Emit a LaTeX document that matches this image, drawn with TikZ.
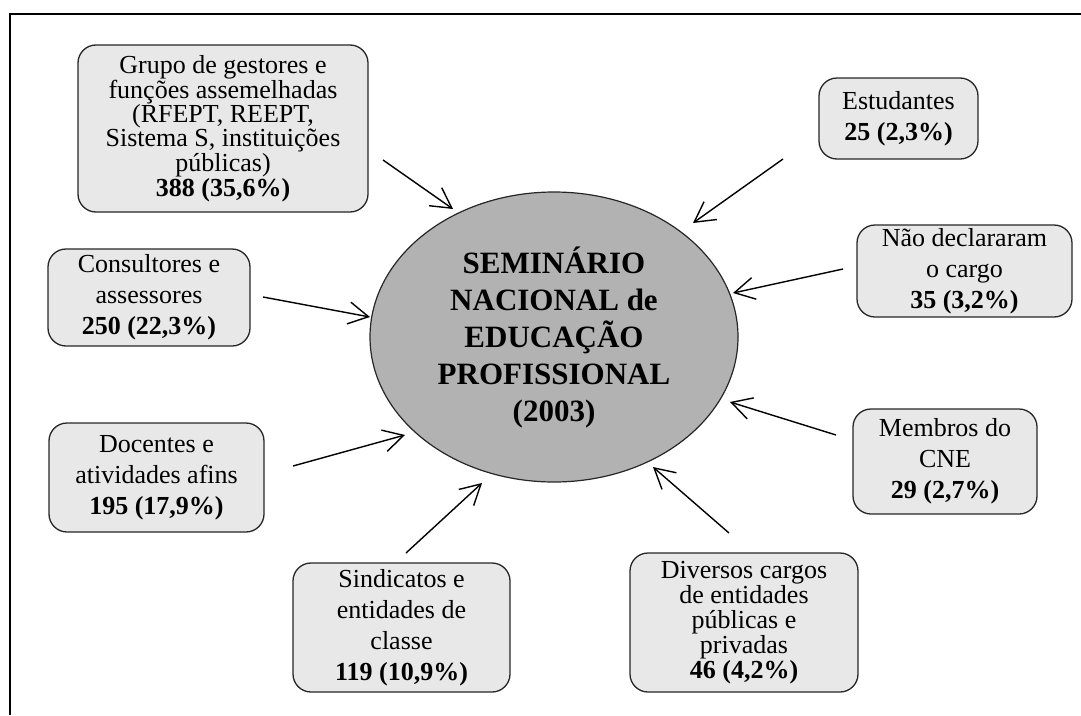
\documentclass[tikz,border=0pt]{standalone}
\usepackage{fontspec}
\setmainfont{Liberation Serif}
\usepackage{tikz}
\usetikzlibrary{arrows.meta,shapes.geometric}
\tikzstyle{grp} = [draw=black!85, line width=1.3pt, fill=gray!18, rounded corners=18pt, align=center, inner sep=2pt, font={\fontsize{26}{31}\selectfont}]
\tikzstyle{sem} = [draw=black!85, line width=1.2pt, fill=gray!60, ellipse, inner sep=0pt, align=center, font={\fontsize{31}{37}\selectfont\bfseries}]
\tikzstyle{flow} = [line width=1.4pt, -{Straight Barb[length=20pt,width=22pt]}]

\begin{document}
\begin{tikzpicture}[x=1pt,y=-1pt]
    \useasboundingbox (0,0) rectangle (1081,715);
    \draw[line width=2pt] (10,715) -- (10,14) -- (1081,14);
    \node[sem, minimum width=368pt, minimum height=290pt](sem) at (554,337){SEMINÁRIO\\NACIONAL de\\EDUCAÇÃO\\PROFISSIONAL\\(2003)};
    \node[grp, minimum width=290pt, minimum height=167pt, font={\fontsize{26}{22.8}\selectfont}](gest) at (223,128.5){Grupo de gestores e\\funções assemelhadas\\(RFEPT, REEPT,\\Sistema S, instituições\\públicas)\\\textbf{388 (35,6\%)}};
    \node[grp, minimum width=159pt, minimum height=81pt](est) at (898.5,118.5){Estudantes\\\textbf{25 (2,3\%)}};
    \node[grp, minimum width=215pt, minimum height=92pt](nd) at (964.5,271){Não declararam\\o cargo\\\textbf{35 (3,2\%)}};
    \node[grp, minimum width=184pt, minimum height=105pt](cne) at (945,461.5){Membros do\\CNE\\\textbf{29 (2,7\%)}};
    \node[grp, minimum width=228pt, minimum height=139pt, font={\fontsize{26}{25}\selectfont}](div) at (744,622.5){Diversos cargos\\de entidades\\públicas e\\privadas\\\textbf{46 (4,2\%)}};
    \node[grp, minimum width=217pt, minimum height=129pt](sind) at (401.5,627.5){Sindicatos e\\entidades de\\classe\\\textbf{119 (10,9\%)}};
    \node[grp, minimum width=215pt, minimum height=109pt](doc) at (156.5,477.5){Docentes e\\atividades afins\\\textbf{195 (17,9\%)}};
    \node[grp, minimum width=202pt, minimum height=97pt](cons) at (149,297.5){Consultores e\\assessores\\\textbf{250 (22,3\%)}};
    % arrow ends
    \coordinate (gest-a) at (383,160);  \coordinate (gest-b) at (453,209);
    \coordinate (est-a) at (783,159);   \coordinate (est-b) at (693,223);
    \coordinate (nd-a) at (843,269);    \coordinate (nd-b) at (733,293);
    \coordinate (cons-a) at (263,297);  \coordinate (cons-b) at (370,317);
    \coordinate (doc-a) at (293,466);   \coordinate (doc-b) at (405,435);
    \coordinate (sind-a) at (406,553);  \coordinate (sind-b) at (482,483);
    \coordinate (div-a) at (729,533);   \coordinate (div-b) at (653,467);
    \coordinate (cne-a) at (836,435);   \coordinate (cne-b) at (730,402);
    \foreach \n in {gest,est,nd,cons,doc,sind,div,cne}
        \draw[flow](\n-a)--(\n-b);
  \end{tikzpicture}
\end{document}
